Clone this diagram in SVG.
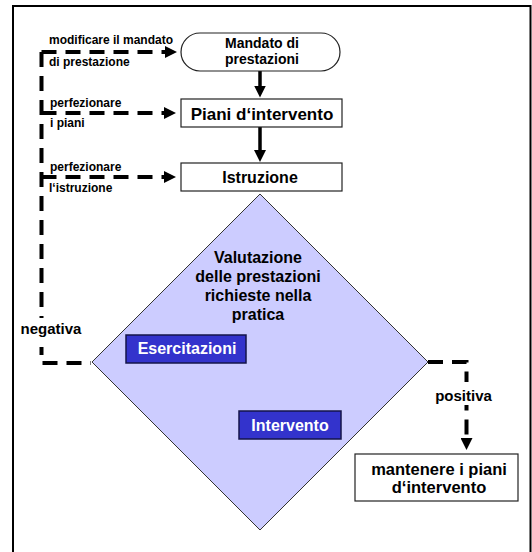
<svg xmlns="http://www.w3.org/2000/svg" width="532" height="552" viewBox="0 0 532 552">
<style>
  text { font-family: "Liberation Sans", Arial, sans-serif; font-weight: bold; fill: #000; }
  .box { fill: #fff; stroke: #222; stroke-width: 1.2; }
  .blue { fill: #3333cc; stroke: #14144a; stroke-width: 1.5; }
  .blue-t { fill: #fff; font-size: 16px; text-anchor: middle; }
  .dash { fill: none; stroke: #000; stroke-width: 4; stroke-dasharray: 15 9; }
  .solid { fill: none; stroke: #000; stroke-width: 3.5; }
  .small { font-size: 12px; }
  .mid { text-anchor: middle; }
  .knock { fill: #fff; }
</style>
<defs>
  <marker id="ah" markerUnits="userSpaceOnUse" markerWidth="12" markerHeight="12" refX="2" refY="6" orient="auto">
    <path d="M0,0 L12,6 L0,12 z" fill="#000"/>
  </marker>
</defs>
<rect width="532" height="552" fill="#fff"/>
<path d="M13,553 V6 H530.5 V553" fill="none" stroke="#000" stroke-width="2"/>

<g id="n-decision">
  <polygon points="260,194 428,362 260,530 92,362" fill="#ccccff" stroke="#333" stroke-width="1"/>
  <text class="mid" font-size="16" x="258" y="263">Valutazione</text>
  <text class="mid" font-size="16" x="258" y="282">delle prestazioni</text>
  <text class="mid" font-size="16" x="258" y="301">richieste nella</text>
  <text class="mid" font-size="16" x="258" y="320">pratica</text>
</g>

<g id="connectors">
  <line class="solid" x1="260" y1="71" x2="260" y2="87.5" marker-end="url(#ah)"/>
  <line class="solid" x1="260" y1="127" x2="260" y2="152" marker-end="url(#ah)"/>
  <path class="dash" d="M41.5,52 H167" marker-end="url(#ah)"/>
  <path class="dash" d="M41.5,52 V363 H91"/>
  <path class="dash" d="M41.5,113 H166" marker-end="url(#ah)"/>
  <path class="dash" d="M41.5,177 H166" marker-end="url(#ah)"/>
  <path class="dash" d="M428,362 H466.5 V440" marker-end="url(#ah)"/>
</g>

<g id="n-mandato">
  <rect class="box" x="181" y="33" width="159" height="38" rx="19" ry="19"/>
  <text class="mid" font-size="14" x="262" y="48">Mandato di</text>
  <text class="mid" font-size="14" x="262" y="64">prestazioni</text>
</g>

<g id="n-piani">
  <rect class="box" x="181" y="99" width="161" height="28"/>
  <text class="mid" font-size="17" x="262" y="120">Piani d‘intervento</text>
</g>

<g id="n-istruzione">
  <rect class="box" x="181" y="163" width="161" height="28"/>
  <text class="mid" font-size="16" x="260" y="183">Istruzione</text>
</g>

<g id="n-esercitazioni">
  <rect class="blue" x="126" y="335" width="120" height="28"/>
  <text class="blue-t" x="187" y="354">Esercitazioni</text>
</g>

<g id="n-intervento">
  <rect class="blue" x="239" y="411" width="102" height="28"/>
  <text class="blue-t" x="290" y="431">Intervento</text>
</g>

<g id="n-mantenere">
  <rect class="box" x="355" y="454" width="163" height="47"/>
  <text class="mid" font-size="16.5" x="439" y="475">mantenere i piani</text>
  <text class="mid" font-size="16.5" x="439" y="493">d‘intervento</text>
</g>

<g id="labels">
  <text class="small" x="49" y="44">modificare il mandato</text>
  <text class="small" x="49" y="66">di prestazione</text>
  <text class="small" x="50" y="107">perfezionare</text>
  <text class="small" x="50" y="127">i piani</text>
  <text class="small" x="50" y="171">perfezionare</text>
  <text class="small" x="49" y="192">l‘istruzione</text>
  <rect class="knock" x="17" y="318" width="70" height="29"/>
  <text class="mid" font-size="15" x="51" y="334">negativa</text>
  <rect class="knock" x="434" y="382" width="60" height="23"/>
  <text class="mid" font-size="15" x="463.5" y="401">positiva</text>
</g>
</svg>
